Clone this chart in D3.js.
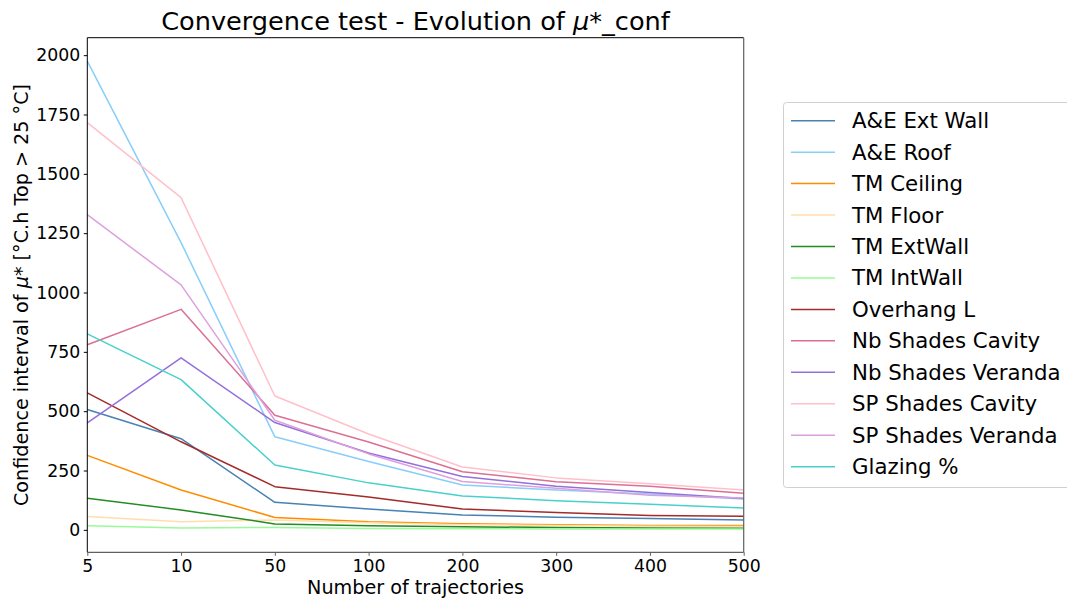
<!DOCTYPE html>
<html><head><meta charset="utf-8">
<script src="https://cdn.jsdelivr.net/npm/d3@7"></script>
<style>
body{margin:0;background:#fff;}
svg{font-family:"DejaVu Sans",sans-serif;}
</style></head>
<body><svg id="c" width="1067" height="601"></svg>
<script>
const categories = ["5","10","50","100","200","300","400","500"];
const seriesNames = ["A&E Ext Wall","A&E Roof","TM Ceiling","TM Floor","TM ExtWall","TM IntWall","Overhang L","Nb Shades Cavity","Nb Shades Veranda","SP Shades Cavity","SP Shades Veranda","Glazing %"];
const seriesColors = ["#4682b4","#87cefa","#ff8c00","#ffdead","#228b22","#98fb98","#a52a2a","#db7093","#9370db","#ffc0cb","#dda0dd","#48d1cc"];
const aeExtWall   = [507, 384, 116, 88, 63, 53, 48, 42];
const aeRoof      = [1975, 1210, 392, 288, 189, 168, 151, 130];
const tmCeiling   = [314, 168, 52, 34, 26, 21, 18, 18];
const tmFloor     = [56, 34, 42, 30, 22, 18, 15, 14];
const tmExtWall   = [133, 84, 25, 17, 13, 10, 8, 7];
const tmIntWall   = [17, 8, 10, 6, 5, 4, 4, 4];
const overhangL   = [577, 371, 182, 138, 88, 73, 61, 57];
const nbCavity    = [780, 929, 483, 370, 245, 203, 184, 154];
const nbVeranda   = [451, 725, 452, 324, 225, 184, 157, 132];
const spCavity    = [1716, 1400, 564, 404, 265, 219, 194, 168];
const spVeranda   = [1328, 1032, 462, 320, 204, 175, 146, 134];
const glazing     = [826, 633, 273, 198, 143, 123, 108, 92];
const yTicks = [0, 250, 500, 750, 1000, 1250, 1500, 1750, 2000];

const allSeries = [aeExtWall, aeRoof, tmCeiling, tmFloor, tmExtWall, tmIntWall, overhangL, nbCavity, nbVeranda, spCavity, spVeranda, glazing];

const L = 87.3, R = 743.7, T = 37.7, B = 552.3;
const svg = d3.select("#c");

const x = d3.scalePoint().domain(categories).range([L, R]).padding(0);
const allVals = allSeries.flat();
const mn = d3.min(allVals), mx = d3.max(allVals), pad = (mx - mn) * 0.05;
const y = d3.scaleLinear().domain([mn - pad, mx + pad]).range([B, T]);

// lines
const line = d3.line().x((d, i) => x(categories[i])).y(d => y(d));
const gLines = svg.append("g");
allSeries.forEach((s, k) => {
  gLines.append("path").datum(s).attr("d", line)
    .attr("fill", "none").attr("stroke", seriesColors[k])
    .attr("stroke-width", 1.5).attr("stroke-linejoin", "round");
});

// axes
const yAxis = d3.axisLeft(y).tickValues(yTicks).tickFormat(d3.format("d")).tickSize(3.5).tickPadding(3.5);
const gy = svg.append("g").attr("transform", `translate(${L},0)`).call(yAxis);
gy.select(".domain").remove();
gy.selectAll("text").attr("font-size", 17.3).attr("font-family", "DejaVu Sans").attr("fill", "#000");
gy.selectAll("line").attr("stroke", "#000");

const xAxis = d3.axisBottom(x).tickSize(3.5).tickPadding(3.5);
const gx = svg.append("g").attr("transform", `translate(0,${B})`).call(xAxis);
gx.select(".domain").remove();
gx.selectAll("text").attr("font-size", 17.3).attr("font-family", "DejaVu Sans").attr("fill", "#000");
gx.selectAll("line").attr("stroke", "#606060");

// spines
svg.append("line").attr("x1", L).attr("x2", R).attr("y1", T).attr("y2", T).attr("stroke", "#000").attr("stroke-width", 1);
svg.append("line").attr("x1", L).attr("x2", L).attr("y1", T).attr("y2", B).attr("stroke", "#000").attr("stroke-width", 1);
svg.append("line").attr("x1", L).attr("x2", R).attr("y1", B).attr("y2", B).attr("stroke", "#606060").attr("stroke-width", 1.2);
svg.append("line").attr("x1", R).attr("x2", R).attr("y1", T).attr("y2", B).attr("stroke", "#606060").attr("stroke-width", 1.2);

// title
const title = svg.append("text").attr("x", (L + R) / 2).attr("y", 30).attr("text-anchor", "middle")
  .attr("font-size", 25.6).attr("fill", "#000");
title.append("tspan").text("Convergence test - Evolution of ");
title.append("tspan").attr("font-style", "italic").text("μ");
title.append("tspan").text("*_conf");

// x label
svg.append("text").attr("x", (L + R) / 2).attr("y", 594).attr("text-anchor", "middle")
  .attr("font-size", 19.2).attr("fill", "#000").text("Number of trajectories");

// y label
const yl = svg.append("text").attr("transform", `translate(28,${(T + B) / 2}) rotate(-90)`)
  .attr("text-anchor", "middle").attr("font-size", 19.2).attr("fill", "#000");
yl.append("tspan").text("Confidence interval of ");
yl.append("tspan").attr("font-style", "italic").text("μ");
yl.append("tspan").text("* [°C.h Top > 25 °C]");

// legend
const lg = svg.append("g");
lg.append("rect").attr("x", 783.5).attr("y", 102.5).attr("width", 300).attr("height", 385)
  .attr("rx", 3).attr("fill", "#fff").attr("stroke", "#d0d0d0").attr("stroke-width", 1);
seriesNames.forEach((n, k) => {
  const cy = 120.7 + k * 31.45;
  lg.append("line").attr("x1", 791).attr("x2", 835).attr("y1", cy).attr("y2", cy)
    .attr("stroke", seriesColors[k]).attr("stroke-width", 1.5);
  lg.append("text").attr("x", 852).attr("y", cy + 7.5).attr("font-size", 21.3)
    .attr("fill", "#000").text(n);
});
</script></body></html>
